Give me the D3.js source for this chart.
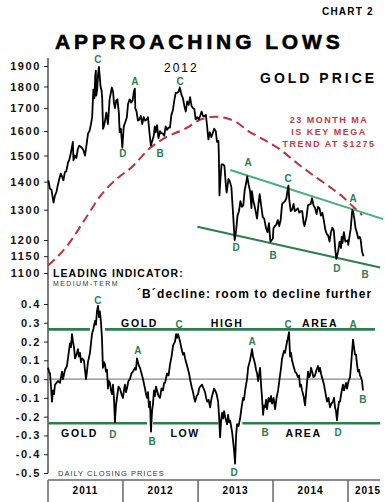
<!DOCTYPE html>
<html>
<head>
<meta charset="utf-8">
<script src="https://cdn.jsdelivr.net/npm/d3@7"></script>
<style>
  body { margin: 0; background: #fff; }
  svg text { font-family: "Liberation Sans", Arial, sans-serif; }
</style>
</head>
<body>
<div id="chart"></div>
<script>
const width = 385, height = 502;

const gold = [
  ["2011-01-03",1405],["2011-01-10",1375],["2011-01-18",1370],["2011-01-28",1325],["2011-02-04",1350],["2011-02-11",1362],
  ["2011-02-18",1388],["2011-02-25",1410],["2011-03-04",1430],["2011-03-11",1418],["2011-03-17",1405],["2011-03-24",1435],
  ["2011-03-31",1439],["2011-04-08",1470],["2011-04-15",1485],["2011-04-21",1505],["2011-04-28",1535],["2011-05-02",1555],
  ["2011-05-05",1481],["2011-05-12",1500],["2011-05-19",1490],["2011-05-26",1525],["2011-06-02",1540],["2011-06-09",1535],
  ["2011-06-16",1530],["2011-06-23",1520],["2011-06-30",1500],["2011-07-08",1545],["2011-07-15",1590],["2011-07-22",1600],
  ["2011-07-29",1628],["2011-08-04",1660],["2011-08-10",1785],["2011-08-15",1745],["2011-08-19",1850],["2011-08-22",1877],
  ["2011-08-24",1757],["2011-08-29",1790],["2011-09-02",1860],["2011-09-06",1895],["2011-09-09",1860],["2011-09-14",1800],
  ["2011-09-19",1780],["2011-09-22",1745],["2011-09-26",1610],["2011-09-30",1620],["2011-10-06",1645],["2011-10-12",1680],
  ["2011-10-20",1630],["2011-10-28",1740],["2011-11-08",1795],["2011-11-14",1775],["2011-11-18",1725],["2011-11-23",1700],
  ["2011-11-29",1735],["2011-12-05",1740],["2011-12-12",1680],["2011-12-16",1595],["2011-12-22",1610],["2011-12-29",1531],
  ["2012-01-05",1620],["2012-01-13",1640],["2012-01-20",1660],["2012-01-26",1720],["2012-02-03",1740],["2012-02-10",1725],
  ["2012-02-17",1735],["2012-02-23",1775],["2012-02-28",1790],["2012-03-01",1700],["2012-03-07",1685],["2012-03-14",1645],
  ["2012-03-21",1650],["2012-03-28",1665],["2012-04-04",1630],["2012-04-11",1660],["2012-04-18",1645],["2012-04-25",1650],
  ["2012-05-02",1660],["2012-05-09",1595],["2012-05-16",1540],["2012-05-23",1560],["2012-05-30",1580],["2012-06-04",1620],
  ["2012-06-08",1595],["2012-06-15",1625],["2012-06-22",1570],["2012-06-29",1600],["2012-07-06",1590],["2012-07-13",1590],
  ["2012-07-20",1580],["2012-07-27",1620],["2012-08-03",1605],["2012-08-10",1615],["2012-08-17",1615],["2012-08-24",1670],
  ["2012-08-31",1690],["2012-09-07",1735],["2012-09-14",1770],["2012-09-21",1770],["2012-09-28",1775],["2012-10-04",1795],
  ["2012-10-12",1760],["2012-10-19",1745],["2012-10-26",1710],["2012-11-02",1685],["2012-11-09",1730],["2012-11-16",1715],
  ["2012-11-23",1750],["2012-11-30",1710],["2012-12-07",1700],["2012-12-14",1695],["2012-12-20",1650],["2012-12-28",1660],
  ["2013-01-04",1650],["2013-01-11",1665],["2013-01-18",1685],["2013-01-25",1665],["2013-02-01",1665],["2013-02-08",1670],
  ["2013-02-15",1610],["2013-02-20",1565],["2013-02-27",1595],["2013-03-06",1575],["2013-03-13",1590],["2013-03-20",1610],
  ["2013-03-28",1600],["2013-04-03",1555],["2013-04-10",1560],["2013-04-12",1500],["2013-04-15",1350],["2013-04-19",1400],
  ["2013-04-25",1465],["2013-05-02",1465],["2013-05-09",1460],["2013-05-16",1390],["2013-05-20",1360],["2013-05-29",1410],
  ["2013-06-05",1400],["2013-06-12",1380],["2013-06-20",1290],["2013-06-28",1200],["2013-07-05",1230],["2013-07-12",1280],
  ["2013-07-19",1295],["2013-07-26",1330],["2013-08-02",1310],["2013-08-09",1315],["2013-08-16",1370],["2013-08-23",1395],
  ["2013-08-28",1420],["2013-09-04",1390],["2013-09-11",1365],["2013-09-18",1305],["2013-09-20",1365],["2013-09-27",1330],
  ["2013-10-04",1310],["2013-10-15",1270],["2013-10-22",1320],["2013-10-28",1355],["2013-11-04",1315],["2013-11-12",1275],
  ["2013-11-19",1270],["2013-11-27",1240],["2013-12-05",1225],["2013-12-12",1255],["2013-12-19",1195],["2013-12-31",1204],
  ["2014-01-03",1238],["2014-01-10",1245],["2014-01-17",1250],["2014-01-24",1265],["2014-01-31",1245],["2014-02-07",1265],
  ["2014-02-14",1320],["2014-02-21",1325],["2014-02-28",1330],["2014-03-07",1340],["2014-03-14",1375],["2014-03-17",1385],
  ["2014-03-21",1335],["2014-03-28",1295],["2014-04-04",1300],["2014-04-11",1320],["2014-04-17",1295],["2014-04-25",1300],
  ["2014-05-02",1305],["2014-05-09",1290],["2014-05-16",1295],["2014-05-23",1295],["2014-05-30",1255],["2014-06-03",1245],
  ["2014-06-13",1275],["2014-06-20",1315],["2014-06-27",1318],["2014-07-03",1320],["2014-07-10",1340],["2014-07-17",1315],
  ["2014-07-25",1305],["2014-08-01",1285],["2014-08-08",1310],["2014-08-15",1305],["2014-08-22",1280],["2014-08-29",1290],
  ["2014-09-05",1265],["2014-09-12",1235],["2014-09-19",1220],["2014-09-26",1215],["2014-10-03",1195],["2014-10-10",1225],
  ["2014-10-17",1240],["2014-10-24",1230],["2014-10-31",1170],["2014-11-05",1142],["2014-11-14",1165],["2014-11-21",1195],
  ["2014-11-28",1175],["2014-12-01",1210],["2014-12-05",1190],["2014-12-12",1225],["2014-12-19",1195],["2014-12-31",1199],
  ["2015-01-02",1185],["2015-01-09",1215],["2015-01-14",1235],["2015-01-22",1300],["2015-01-27",1290],["2015-02-02",1265],
  ["2015-02-06",1240],["2015-02-13",1225],["2015-02-20",1205],["2015-02-27",1210],["2015-03-04",1200],["2015-03-10",1165],
  ["2015-03-17",1150]
];

// 23 month moving average (decimal year, price)
const movingAvg = [
  [2011.00,1122],[2011.25,1180],[2011.52,1278],[2011.69,1345],[2011.96,1420],[2012.10,1450],[2012.36,1530],
  [2012.56,1572],[2012.83,1610],[2013.05,1652],[2013.23,1662],[2013.50,1640],[2013.67,1600],[2013.87,1565],
  [2014.09,1525],[2014.32,1470],[2014.53,1425],[2014.76,1380],[2014.93,1345],[2015.07,1310],[2015.19,1282]
];

// channel trend lines [start, end] as [decimal year, price]
const upperChannel = [[2013.43,1444],[2015.47,1268]];
const lowerChannel = [[2012.99,1243],[2015.43,1116]];

// medium-term leading indicator (decimal year, value)
const indicator = [
  [2011.000,0.06],[2011.013,0.04],[2011.027,0.03],[2011.040,-0.04],[2011.053,-0.12],[2011.067,-0.06],[2011.080,-0.08],
  [2011.093,-0.03],[2011.113,-0.02],[2011.133,-0.01],[2011.160,-0.02],[2011.187,0.04],[2011.200,0.00],[2011.227,0.05],
  [2011.253,0.07],[2011.273,0.13],[2011.293,0.19],[2011.307,0.17],[2011.320,0.24],[2011.333,0.20],[2011.347,0.17],
  [2011.360,0.11],[2011.380,0.13],[2011.400,0.16],[2011.413,0.12],[2011.427,0.14],[2011.440,0.09],[2011.453,0.11],
  [2011.480,0.10],[2011.493,0.05],[2011.507,0.00],[2011.520,0.04],[2011.533,0.09],[2011.560,0.14],[2011.587,0.24],
  [2011.607,0.27],[2011.627,0.31],[2011.640,0.29],[2011.653,0.36],[2011.667,0.39],[2011.680,0.33],[2011.693,0.36],
  [2011.707,0.30],[2011.720,0.22],[2011.733,0.06],[2011.747,0.09],[2011.760,0.08],[2011.773,0.04],[2011.787,0.05],
  [2011.800,-0.05],[2011.813,-0.01],[2011.827,-0.02],[2011.840,-0.06],[2011.853,-0.08],[2011.867,-0.03],[2011.880,-0.10],
  [2011.893,-0.23],[2011.907,-0.14],[2011.920,-0.10],[2011.940,-0.04],[2011.960,-0.05],[2011.980,-0.08],[2012.000,-0.10],
  [2012.013,-0.06],[2012.027,-0.03],[2012.040,-0.07],[2012.053,-0.05],[2012.073,-0.01],[2012.093,0.00],[2012.113,0.03],
  [2012.133,0.04],[2012.160,0.06],[2012.173,0.05],[2012.187,0.11],[2012.200,0.09],[2012.213,0.07],[2012.227,0.06],
  [2012.247,0.03],[2012.267,0.00],[2012.293,-0.05],[2012.307,-0.08],[2012.320,-0.10],[2012.333,-0.07],[2012.347,-0.15],
  [2012.360,-0.12],[2012.373,-0.28],[2012.387,-0.17],[2012.400,-0.13],[2012.413,-0.06],[2012.427,-0.09],[2012.440,-0.04],
  [2012.453,-0.06],[2012.473,-0.09],[2012.493,-0.10],[2012.513,-0.05],[2012.533,-0.06],[2012.547,-0.02],[2012.560,-0.02],
  [2012.587,0.03],[2012.607,0.02],[2012.627,0.08],[2012.647,0.12],[2012.667,0.18],[2012.680,0.19],[2012.693,0.20],
  [2012.707,0.24],[2012.720,0.22],[2012.733,0.24],[2012.747,0.22],[2012.760,0.20],[2012.780,0.16],[2012.800,0.13],
  [2012.813,0.14],[2012.827,0.11],[2012.847,0.08],[2012.867,0.05],[2012.880,0.03],[2012.893,0.00],[2012.913,-0.04],
  [2012.933,-0.07],[2012.947,-0.10],[2012.960,-0.12],[2012.980,-0.09],[2013.000,-0.08],[2013.013,-0.05],[2013.027,-0.04],
  [2013.053,-0.03],[2013.073,-0.05],[2013.093,-0.07],[2013.107,-0.10],[2013.120,-0.12],[2013.140,-0.11],[2013.160,-0.15],
  [2013.180,-0.10],[2013.200,-0.07],[2013.213,-0.05],[2013.227,-0.06],[2013.247,-0.08],[2013.267,-0.12],[2013.280,-0.20],
  [2013.293,-0.31],[2013.307,-0.22],[2013.320,-0.18],[2013.333,-0.21],[2013.347,-0.17],[2013.360,-0.20],[2013.373,-0.22],
  [2013.387,-0.24],[2013.400,-0.19],[2013.413,-0.23],[2013.427,-0.22],[2013.440,-0.25],[2013.453,-0.28],[2013.467,-0.33],
  [2013.480,-0.38],[2013.493,-0.45],[2013.507,-0.30],[2013.520,-0.24],[2013.540,-0.25],[2013.560,-0.21],[2013.580,-0.15],
  [2013.600,-0.10],[2013.613,-0.11],[2013.627,-0.06],[2013.640,-0.03],[2013.653,0.00],[2013.667,0.06],[2013.680,0.08],
  [2013.693,0.10],[2013.707,0.13],[2013.720,0.16],[2013.733,0.12],[2013.747,0.10],[2013.760,0.08],[2013.773,0.05],
  [2013.787,0.03],[2013.800,-0.01],[2013.813,0.02],[2013.827,0.06],[2013.840,-0.03],[2013.853,-0.10],[2013.867,-0.19],
  [2013.880,-0.14],[2013.893,-0.15],[2013.907,-0.11],[2013.920,-0.16],[2013.940,-0.10],[2013.960,-0.12],[2013.973,-0.09],
  [2013.987,-0.13],[2014.007,-0.10],[2014.027,-0.16],[2014.047,-0.10],[2014.067,-0.06],[2014.080,-0.02],[2014.093,0.02],
  [2014.107,0.06],[2014.120,0.11],[2014.133,0.13],[2014.147,0.15],[2014.160,0.14],[2014.173,0.17],[2014.187,0.20],
  [2014.200,0.22],[2014.213,0.25],[2014.227,0.12],[2014.240,0.14],[2014.253,0.10],[2014.273,0.07],[2014.293,0.04],
  [2014.313,0.03],[2014.333,0.01],[2014.347,0.02],[2014.360,-0.04],[2014.373,-0.03],[2014.387,-0.06],[2014.407,-0.09],
  [2014.427,-0.14],[2014.440,-0.08],[2014.453,-0.02],[2014.467,0.04],[2014.480,0.01],[2014.493,0.02],[2014.507,0.06],
  [2014.520,0.04],[2014.540,0.01],[2014.560,0.02],[2014.580,0.05],[2014.600,0.07],[2014.613,0.04],[2014.627,0.06],
  [2014.640,0.03],[2014.653,0.01],[2014.667,-0.01],[2014.680,-0.03],[2014.693,-0.06],[2014.707,-0.09],[2014.720,-0.12],
  [2014.740,-0.10],[2014.760,-0.15],[2014.780,-0.13],[2014.800,-0.12],[2014.813,-0.10],[2014.827,-0.15],[2014.840,-0.17],
  [2014.853,-0.22],[2014.867,-0.16],[2014.880,-0.12],[2014.893,-0.12],[2014.913,-0.07],[2014.933,-0.03],[2014.947,-0.06],
  [2014.960,-0.04],[2014.973,-0.02],[2014.987,-0.05],[2015.007,-0.01],[2015.027,0.01],[2015.040,0.07],[2015.053,0.14],
  [2015.067,0.21],[2015.080,0.17],[2015.093,0.13],[2015.107,0.13],[2015.120,0.08],[2015.133,0.04],[2015.147,0.05],
  [2015.160,0.02],[2015.173,0.01],[2015.187,-0.01],[2015.200,-0.06]
];

// horizontal "high area" / "low area" bands of the indicator, drawn as broken segments
const highBand = 0.265, lowBand = -0.235;
const highSegments = [[2011.00,2011.56],[2011.76,2015.36]];
const lowSegments = [[2011.00,2012.32],[2012.40,2013.27],[2013.59,2015.43]];

const goldTicks = [1100,1150,1200,1300,1400,1500,1600,1700,1800,1900];
const indTicks = [0.4,0.3,0.2,0.1,0,-0.1,-0.2,-0.3,-0.4,-0.5];
const years = [2011,2012,2013,2014,2015];

// wave labels: [letter, decimal year, value]
const goldWaves = [
  ["C",2011.667,1915],["A",2012.160,1805],["C",2012.760,1805],["D",2012.000,1495],["B",2012.493,1495],
  ["A",2013.667,1459],["C",2014.200,1400],["A",2015.067,1327],["D",2013.507,1166],["B",2014.000,1142],
  ["D",2014.853,1103],["B",2015.227,1086]
];
const indWaves = [
  ["C",2011.667,0.40],["C",2012.747,0.27],["A",2012.200,0.133],["A",2013.720,0.18],["C",2014.200,0.27],
  ["A",2015.067,0.27],["D",2011.867,-0.314],["B",2012.387,-0.351],["B",2013.893,-0.303],["D",2014.867,-0.303],
  ["D",2013.480,-0.516],["B",2015.200,-0.128]
];
const highWords = [["GOLD",2012.22],["HIGH",2013.387],["AREA",2014.627]];
const lowWords = [["GOLD",2011.42],["LOW",2012.827],["AREA",2014.407]];

//convert decimal year to a date
function yr(t) {
  const y = Math.floor(t);
  const start = Date.UTC(y, 0, 1), end = Date.UTC(y + 1, 0, 1);
  return new Date(start + (t - y) * (end - start));
}
const parse = d3.utcParse("%Y-%m-%d");

const svg = d3.select("#chart").append("svg")
  .attr("width", width)
  .attr("height", height);

const x = d3.scaleUtc().domain([yr(2011), yr(2015)]).range([48, 348]);
const yGold = d3.scaleLog().domain([1100, 1900]).range([273, 66]);
const yInd = d3.scaleLinear().domain([-0.5, 0.4]).range([473, 304]);

const green = "#2e7d4f";

//////////// titles ////////////
svg.append("text").attr("x", 322).attr("y", 15).text("CHART 2")
  .style("font-size", "10px").style("font-weight", "bold").style("letter-spacing", "1.2px");
svg.append("text").attr("x", 55).attr("y", 49).text("APPROACHING LOWS")
  .style("font-size", "21px").style("font-weight", "bold").style("letter-spacing", "3.9px")
  .attr("stroke", "#000").attr("stroke-width", 0.6);
svg.append("text").attr("x", 164).attr("y", 72).text("2012")
  .style("font-size", "12px").style("letter-spacing", "2px");
svg.append("text").attr("x", 260).attr("y", 83).text("GOLD PRICE")
  .style("font-size", "14px").style("font-weight", "bold").style("letter-spacing", "3px");

svg.selectAll(".maNote").data(["23 MONTH MA", "IS KEY MEGA", "TREND AT $1275"]).enter()
  .append("text").attr("x", 329).attr("y", (d, i) => 123 + i * 12).text(d => d)
  .attr("text-anchor", "middle").attr("fill", "#c23b3b")
  .style("font-size", "9px").style("font-weight", "bold").style("letter-spacing", "1.5px");

//////////// axes ////////////
function styleAxis(g) {
  g.select(".domain").remove();
  g.selectAll(".tick line").attr("stroke", "#222");
  g.selectAll(".tick text")
    .style("font-family", "'Liberation Sans', Arial, sans-serif")
    .style("font-size", "11px").style("font-weight", "bold").style("letter-spacing", "1.6px")
    .attr("fill", "#111");
}
svg.append("g").attr("transform", "translate(48,0)")
  .call(d3.axisLeft(yGold).tickValues(goldTicks).tickSize(4).tickPadding(3).tickFormat(d => d))
  .call(styleAxis);
svg.append("g").attr("transform", "translate(48,0)")
  .call(d3.axisLeft(yInd).tickValues(indTicks).tickSize(4).tickPadding(3).tickFormat(d => d.toFixed(1)))
  .call(styleAxis);
svg.append("line").attr("x1", 48).attr("x2", 48).attr("y1", 58).attr("y2", yInd(-0.5))
  .attr("stroke", "#222").attr("stroke-width", 1.2);

//////////// gold panel ////////////
const goldLine = d3.line().x(d => x(parse(d[0]))).y(d => yGold(d[1]));
const yearLine = (yScale) => d3.line().x(d => x(yr(d[0]))).y(d => yScale(d[1]));

svg.append("path").datum(movingAvg)
  .attr("d", yearLine(yGold).curve(d3.curveMonotoneX))
  .attr("fill", "none").attr("stroke", "#b8333d").attr("stroke-width", 2)
  .attr("stroke-dasharray", "9,5");

svg.append("path").datum(upperChannel).attr("d", yearLine(yGold))
  .attr("stroke", "#45b078").attr("stroke-width", 2);
svg.append("path").datum(lowerChannel).attr("d", yearLine(yGold))
  .attr("stroke", green).attr("stroke-width", 2);

svg.append("path").datum(gold).attr("d", goldLine)
  .attr("fill", "none").attr("stroke", "#000").attr("stroke-width", 1.8)
  .attr("stroke-linejoin", "round");

svg.selectAll(".goldWave").data(goldWaves).enter().append("text")
  .attr("x", d => x(yr(d[1]))).attr("y", d => yGold(d[2])).text(d => d[0])
  .attr("text-anchor", "middle").attr("fill", green)
  .style("font-size", "10px").style("font-weight", "bold");

//////////// indicator panel ////////////
svg.append("text").attr("x", 53).attr("y", 277).text("LEADING INDICATOR:")
  .style("font-size", "10.5px").style("font-weight", "bold").style("letter-spacing", "1.1px");
svg.append("text").attr("x", 53).attr("y", 286).text("MEDIUM-TERM")
  .style("font-size", "7px").style("letter-spacing", "1.4px").attr("fill", "#333");
svg.append("text").attr("x", 137).attr("y", 298).text("\u00B4B\u00B4decline: room to decline further")
  .style("font-size", "12px").style("font-weight", "bold").style("letter-spacing", "1.1px");

svg.append("line").attr("x1", 48).attr("x2", 362).attr("y1", yInd(0)).attr("y2", yInd(0))
  .attr("stroke", "#888").attr("stroke-width", 1.2);

svg.selectAll(".highSeg").data(highSegments).enter().append("line")
  .attr("x1", d => x(yr(d[0]))).attr("x2", d => x(yr(d[1])))
  .attr("y1", yInd(highBand)).attr("y2", yInd(highBand))
  .attr("stroke", green).attr("stroke-width", 2.6);
svg.selectAll(".lowSeg").data(lowSegments).enter().append("line")
  .attr("x1", d => x(yr(d[0]))).attr("x2", d => x(yr(d[1])))
  .attr("y1", yInd(lowBand)).attr("y2", yInd(lowBand))
  .attr("stroke", green).attr("stroke-width", 2.6);

svg.append("path").datum(indicator).attr("d", yearLine(yInd))
  .attr("fill", "none").attr("stroke", "#000").attr("stroke-width", 1.8)
  .attr("stroke-linejoin", "round");

svg.selectAll(".indWave").data(indWaves).enter().append("text")
  .attr("x", d => x(yr(d[1]))).attr("y", d => yInd(d[2])).text(d => d[0])
  .attr("text-anchor", "middle").attr("fill", green)
  .style("font-size", "10px").style("font-weight", "bold");

svg.selectAll(".highWord").data(highWords).enter().append("text")
  .attr("x", d => x(yr(d[1]))).attr("y", yInd(highBand) - 2.5).text(d => d[0])
  .attr("text-anchor", "middle")
  .style("font-size", "10.5px").style("font-weight", "bold").style("letter-spacing", "1.6px");
svg.selectAll(".lowWord").data(lowWords).enter().append("text")
  .attr("x", d => x(yr(d[1]))).attr("y", yInd(lowBand) + 13.5).text(d => d[0])
  .attr("text-anchor", "middle")
  .style("font-size", "10.5px").style("font-weight", "bold").style("letter-spacing", "1.6px");

svg.append("text").attr("x", 58).attr("y", 476).text("DAILY CLOSING PRICES")
  .style("font-size", "7.5px").style("letter-spacing", "1px").attr("fill", "#333");

//////////// year box ////////////
const boxTop = 480, boxRight = 380;
svg.append("line").attr("x1", 48).attr("x2", boxRight).attr("y1", boxTop).attr("y2", boxTop)
  .attr("stroke", "#666").attr("stroke-width", 1.5);
svg.selectAll(".yearDiv").data(years).enter().append("line")
  .attr("x1", d => x(yr(d))).attr("x2", d => x(yr(d)))
  .attr("y1", boxTop).attr("y2", height)
  .attr("stroke", "#666").attr("stroke-width", 1.5);
svg.selectAll(".yearLabel").data(years).enter().append("text")
  .attr("x", d => (x(yr(d)) + Math.min(x(yr(d + 1)), 388)) / 2)
  .attr("y", 494).text(d => d)
  .attr("text-anchor", "middle")
  .style("font-size", "10px").style("font-weight", "bold").style("letter-spacing", "1px");
</script>
</body>
</html>
